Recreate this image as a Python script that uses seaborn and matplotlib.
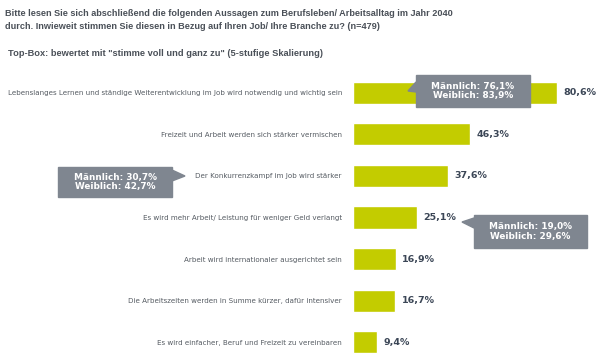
import pandas as pd
import seaborn as sns
import matplotlib.pyplot as plt
from matplotlib.patches import Polygon

# ==========================================
# Daten
# ==========================================
aussagen = [
    "Lebenslanges Lernen und ständige Weiterentwicklung im Job wird notwendig und wichtig sein",
    "Freizeit und Arbeit werden sich stärker vermischen",
    "Der Konkurrenzkampf im Job wird stärker",
    "Es wird mehr Arbeit/ Leistung für weniger Geld verlangt",
    "Arbeit wird internationaler ausgerichtet sein",
    "Die Arbeitszeiten werden in Summe kürzer, dafür intensiver",
    "Es wird einfacher, Beruf und Freizeit zu vereinbaren",
]
anteil = [80.6, 46.3, 37.6, 25.1, 16.9, 16.7, 9.4]

# Geschlechter-Aufteilung (Callouts)
maennlich = [76.1, 30.7, 19.0]
weiblich = [83.9, 42.7, 29.6]

titel = ("Bitte lesen Sie sich abschließend die folgenden Aussagen zum Berufsleben/ Arbeitsalltag im Jahr 2040\n"
         "durch. Inwieweit stimmen Sie diesen in Bezug auf Ihren Job/ Ihre Branche zu? (n=479)")
untertitel = 'Top-Box: bewertet mit "stimme voll und ganz zu" (5-stufige Skalierung)'

GRUEN = "#c3cc00"
GRAU_BOX = "#7f8690"
TEXT_DUNKEL = "#3b4656"
TEXT_GRAU = "#555b62"
TITEL_FARBE = "#4a5058"

W, H = 600, 364

def fx(x):
    return x / W

def fy(y):
    return 1 - y / H

df = pd.DataFrame({"Aussage": aussagen, "Anteil": anteil})

sns.set_style("white")
plt.rcParams["font.family"] = ["DejaVu Sans"]

fig = plt.figure(figsize=(6, 3.64), dpi=100)
ax = fig.add_axes([fx(353), fy(363), fx(593) - fx(353), fy(72) - fy(363)])

sns.barplot(data=df, y="Aussage", x="Anteil", color=GRUEN, saturation=1,
            width=0.53, orient="h", ax=ax)
ax.set_xlim(0, (593 - 353) / 2.53)
ax.set_ylim(6.5, -0.5)
ax.set_xlabel("")
ax.set_ylabel("")
ax.set_xticks([])
sns.despine(ax=ax, left=True, bottom=True)
ax.tick_params(axis="y", length=0, pad=8, labelsize=5.1, labelcolor=TEXT_GRAU)

for i, v in enumerate(anteil):
    ax.annotate(f"{v:.1f}%".replace(".", ","), xy=(v, i), xytext=(4.5, 0),
                textcoords="offset points", va="center", ha="left",
                fontsize=6.8, fontweight="bold", color=TEXT_DUNKEL)

# Titel
fig.text(fx(5), fy(9.5), titel, ha="left", va="top", fontsize=6.6,
         fontweight="bold", color=TITEL_FARBE, linespacing=1.55,
         family="Liberation Sans")
fig.text(fx(8), fy(53), untertitel, ha="left", va="center", fontsize=6.65,
         fontweight="bold", color=TITEL_FARBE, family="Liberation Sans")

# Callouts (Pixel-Positionen: Box links, oben, rechts, unten; Spitze)
boxen = [
    ((416, 75, 530, 107), [(416, 82), (408, 91), (416, 92)]),
    ((58, 167, 172, 197), [(172, 170), (185, 176), (172, 181)]),
    ((474, 215, 587, 248), [(474, 218), (462, 222), (474, 228)]),
]

for (box, spitze), m, w in zip(boxen, maennlich, weiblich):
    x0, y0, x1, y1 = box
    pts = [(x0, y0), (x1, y0), (x1, y1), (x0, y1)]
    fig.add_artist(Polygon([(fx(a), fy(b)) for a, b in pts], closed=True,
                           transform=fig.transFigure, color=GRAU_BOX, zorder=5))
    fig.add_artist(Polygon([(fx(a), fy(b)) for a, b in spitze], closed=True,
                           transform=fig.transFigure, color=GRAU_BOX, zorder=5))
    txt = (f"Männlich: {m:.1f}%\nWeiblich: {w:.1f}%").replace(".", ",")
    fig.text(fx((x0 + x1) / 2), fy((y0 + y1) / 2), txt, ha="center", va="center",
             fontsize=6.4, fontweight="bold", color="white", linespacing=1.1, zorder=6)

fig.savefig("out.png", dpi=100)
